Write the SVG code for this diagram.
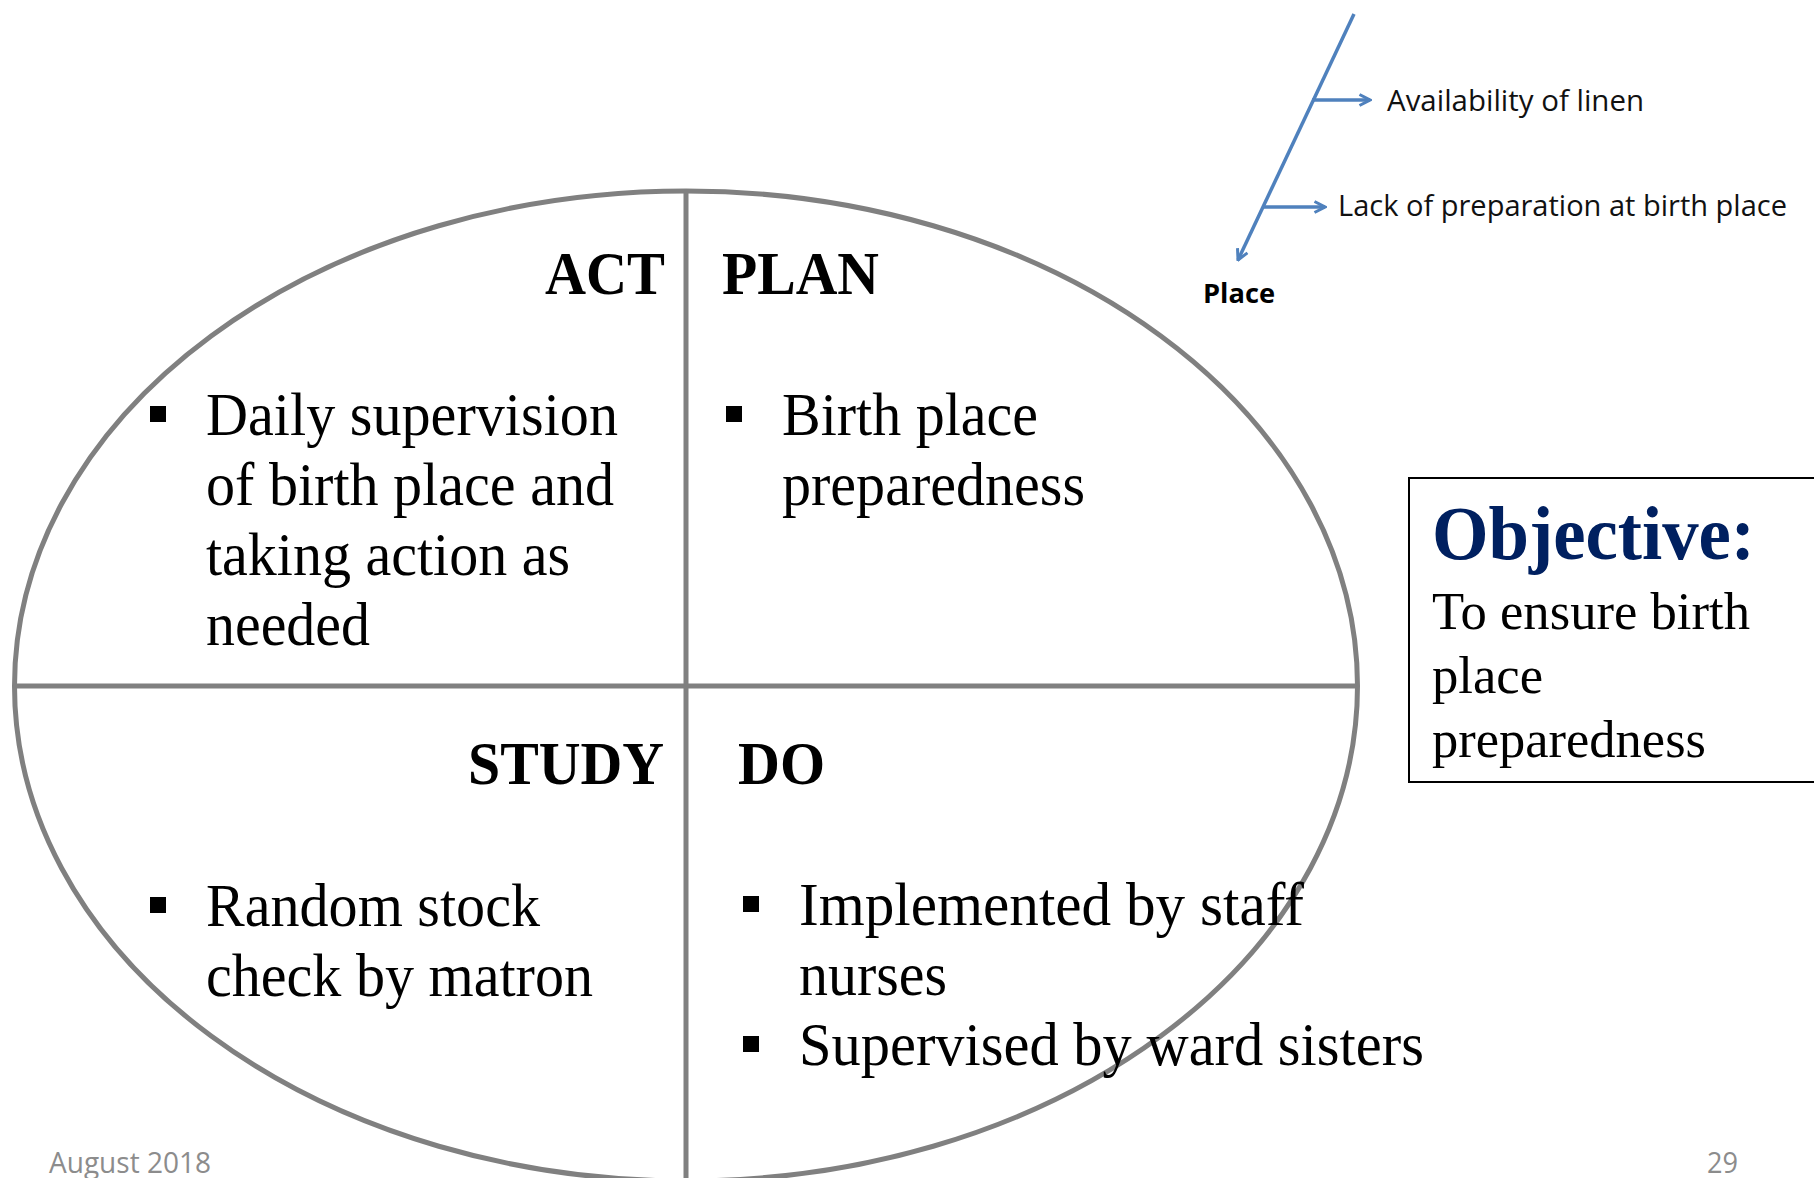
<svg xmlns="http://www.w3.org/2000/svg" width="1814" height="1178" viewBox="0 0 1814 1178">
  <style>
    .ring { fill: none; stroke: #808080; stroke-width: 5; }
    .head { font-family: "Liberation Serif", "Times New Roman", serif; font-weight: bold; font-size: 61px; fill: #000; }
    .body { font-family: "Liberation Serif", "Times New Roman", serif; font-size: 61px; fill: #000; }
    .obj-title { font-family: "Liberation Serif", "Times New Roman", serif; font-weight: bold; font-size: 77px; fill: #002060; }
    .obj-text { font-family: "Liberation Serif", "Times New Roman", serif; font-size: 53px; fill: #000; }
    .fish { font-family: "Open Sans", "Liberation Sans", sans-serif; font-size: 29px; fill: #111; }
    .fish-bold { font-family: "Open Sans", "Liberation Sans", sans-serif; font-weight: bold; font-size: 26px; fill: #000; }
    .blue { fill: none; stroke: #4F81BD; stroke-width: 3.5; }
    .foot { font-family: "Open Sans", "Liberation Sans", sans-serif; font-size: 29px; fill: #8c8c8c; }
    .bullet { fill: #000; }
  </style>
  <defs>
    <marker id="chev" viewBox="0 0 14 14" refX="12.5" refY="7" markerWidth="14" markerHeight="14" markerUnits="userSpaceOnUse" orient="auto">
      <path d="M2,1.5 L12.5,7 L2,12.5" fill="none" stroke="#4F81BD" stroke-width="3"/>
    </marker>
  </defs>

  <rect width="1814" height="1178" fill="#fff"/>

  <!-- PDSA cycle: ellipse split into four quadrants -->
  <g id="cycle">
    <ellipse class="ring" cx="686" cy="686" rx="671.5" ry="495"/>
    <line class="ring" x1="14" y1="686" x2="1357" y2="686"/>
    <line class="ring" x1="686" y1="191" x2="686" y2="1182"/>
  </g>

  <g id="act">
    <text class="head" x="545" y="294" textLength="120" lengthAdjust="spacingAndGlyphs">ACT</text>
    <rect class="bullet" x="150" y="406" width="16" height="16"/>
    <text class="body" x="206" y="435" textLength="412" lengthAdjust="spacingAndGlyphs">Daily supervision</text>
    <text class="body" x="206" y="505" textLength="408" lengthAdjust="spacingAndGlyphs">of birth place and</text>
    <text class="body" x="206" y="575" textLength="364" lengthAdjust="spacingAndGlyphs">taking action as</text>
    <text class="body" x="206" y="645" textLength="164" lengthAdjust="spacingAndGlyphs">needed</text>
  </g>

  <g id="plan">
    <text class="head" x="722" y="294" textLength="157" lengthAdjust="spacingAndGlyphs">PLAN</text>
    <rect class="bullet" x="726" y="406" width="16" height="16"/>
    <text class="body" x="782" y="435" textLength="256" lengthAdjust="spacingAndGlyphs">Birth place</text>
    <text class="body" x="782" y="505" textLength="303" lengthAdjust="spacingAndGlyphs">preparedness</text>
  </g>

  <g id="study">
    <text class="head" x="468" y="784" textLength="196" lengthAdjust="spacingAndGlyphs">STUDY</text>
    <rect class="bullet" x="150" y="897" width="16" height="16"/>
    <text class="body" x="206" y="926" textLength="334" lengthAdjust="spacingAndGlyphs">Random stock</text>
    <text class="body" x="206" y="996" textLength="387" lengthAdjust="spacingAndGlyphs">check by matron</text>
  </g>

  <g id="do">
    <text class="head" x="738" y="784" textLength="87" lengthAdjust="spacingAndGlyphs">DO</text>
    <rect class="bullet" x="743" y="896" width="16" height="16"/>
    <text class="body" x="799" y="925" textLength="505" lengthAdjust="spacingAndGlyphs">Implemented by staff</text>
    <text class="body" x="799" y="995" textLength="148" lengthAdjust="spacingAndGlyphs">nurses</text>
    <rect class="bullet" x="743" y="1036" width="16" height="16"/>
    <text class="body" x="799" y="1065" textLength="625" lengthAdjust="spacingAndGlyphs">Supervised by ward sisters</text>
  </g>

  <!-- objective panel -->
  <g id="objective">
    <rect x="1409" y="478" width="420" height="304" fill="#fff" stroke="#000" stroke-width="2"/>
    <text class="obj-title" x="1432" y="559" textLength="323" lengthAdjust="spacingAndGlyphs">Objective:</text>
    <text class="obj-text" x="1432" y="629" textLength="318" lengthAdjust="spacingAndGlyphs">To ensure birth</text>
    <text class="obj-text" x="1432" y="693" textLength="111" lengthAdjust="spacingAndGlyphs">place</text>
    <text class="obj-text" x="1432" y="757" textLength="274" lengthAdjust="spacingAndGlyphs">preparedness</text>
  </g>

  <!-- fishbone branch: causes feeding into "Place" -->
  <g id="connectors">
    <line class="blue" x1="1354" y1="14" x2="1238" y2="260" marker-end="url(#chev)"/>
    <line class="blue" x1="1312" y1="100" x2="1370" y2="100" marker-end="url(#chev)"/>
    <line class="blue" x1="1263" y1="207" x2="1325" y2="207" marker-end="url(#chev)"/>
  </g>
  <g id="cause-linen">
    <text class="fish" x="1387" y="111" textLength="257" lengthAdjust="spacingAndGlyphs">Availability of linen</text>
  </g>
  <g id="cause-preparation">
    <text class="fish" x="1338" y="216" textLength="449" lengthAdjust="spacingAndGlyphs">Lack of preparation at birth place</text>
  </g>
  <g id="place">
    <text class="fish-bold" x="1203" y="303" textLength="72" lengthAdjust="spacingAndGlyphs">Place</text>
  </g>

  <!-- footer -->
  <text class="foot" x="49" y="1173" textLength="162" lengthAdjust="spacingAndGlyphs">August 2018</text>
  <text class="foot" x="1707" y="1173" textLength="31" lengthAdjust="spacingAndGlyphs">29</text>
</svg>
